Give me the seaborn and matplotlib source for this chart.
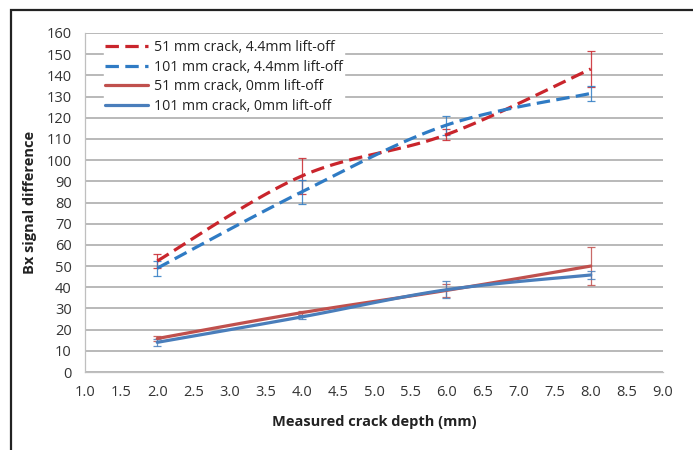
import numpy as np
import pandas as pd
import matplotlib
matplotlib.use("Agg")
import matplotlib.pyplot as plt
import seaborn as sns
from matplotlib.patches import Rectangle

# ---- data ----
depth = [2.0, 4.0, 6.0, 8.0]
series_names = ["51 mm crack, 4.4mm lift-off", "101 mm crack, 4.4mm lift-off",
                "51 mm crack, 0mm lift-off", "101 mm crack, 0mm lift-off"]
s51_44 = [52.4, 92.5, 112.0, 143.0]
s51_44_err = [3.5, 8.5, 2.5, 8.5]
s101_44 = [49.0, 85.0, 116.5, 131.5]
s101_44_err = [3.5, 5.5, 4.5, 3.5]
s51_0 = [15.8, 28.0, 38.5, 50.0]
s51_0_err = [1.2, 1.0, 3.0, 9.0]
s101_0 = [14.0, 26.0, 38.8, 45.8]
s101_0_err = [1.5, 1.0, 4.0, 2.0]
x_ticks = [1.0 + 0.5 * i for i in range(17)]
y_ticks = list(range(0, 170, 10))

colors = ["#C9252C", "#2F7BC4", "#C0504D", "#4A7EBB"]
styles = ["dash", "dash", "solid", "solid"]


def smooth(xs, ys, n=30):
    """Excel-like smoothed line (Catmull-Rom / Bezier) drawn through the data points."""
    xs = np.asarray(xs, float)
    ys = np.asarray(ys, float)
    px = np.concatenate([[xs[0]], xs, [xs[-1]]])
    py = np.concatenate([[ys[0]], ys, [ys[-1]]])
    outx, outy = [], []
    for i in range(1, len(px) - 2):
        p0, p1, p2, p3 = (np.array([px[j], py[j]]) for j in (i - 1, i, i + 1, i + 2))
        c1 = p1 + (p2 - p0) / 6.0
        c2 = p2 - (p3 - p1) / 6.0
        t = np.linspace(0, 1, n, endpoint=(i == len(px) - 3))
        b = (((1 - t) ** 3)[:, None] * p1 + (3 * (1 - t) ** 2 * t)[:, None] * c1
             + (3 * (1 - t) * t ** 2)[:, None] * c2 + (t ** 3)[:, None] * p2)
        outx.extend(b[:, 0]); outy.extend(b[:, 1])
    return outx, outy


sns.set_theme(style="white")
plt.rcParams["font.family"] = ["Open Sans", "DejaVu Sans"]

fig = plt.figure(figsize=(6.93, 4.5), dpi=100)
ax = fig.add_axes([85 / 693, 1 - 372 / 450, (663 - 85) / 693, (372 - 33) / 450])

all_vals = [s51_44, s101_44, s51_0, s101_0]
all_errs = [s51_44_err, s101_44_err, s51_0_err, s101_0_err]

frames = []
for name, vals in zip(series_names, all_vals):
    sx, sy = smooth(depth, vals)
    frames.append(pd.DataFrame({"depth": sx, "signal": sy, "series": name}))
df = pd.concat(frames, ignore_index=True)

sns.lineplot(data=df, x="depth", y="signal", hue="series", style="series",
             hue_order=series_names, style_order=series_names,
             palette=colors, dashes={n: ((4.2, 2.0) if s == "dash" else "") for n, s in zip(series_names, styles)},
             linewidth=2.3, sort=False, estimator=None, ax=ax, zorder=3)

for vals, errs, c in zip(all_vals, all_errs, colors):
    ax.errorbar(depth, vals, yerr=errs, fmt="none", ecolor=c, elinewidth=0.9,
                capsize=3, capthick=0.9, zorder=2, alpha=0.85)

ax.set_xlim(1.0, 9.0)
ax.set_ylim(0, 160)
ax.set_xticks(x_ticks)
ax.set_xticklabels([f"{v:.1f}" for v in x_ticks])
ax.set_yticks(y_ticks)
ax.yaxis.grid(True, color="#A6A6A6", linewidth=1.1)
ax.xaxis.grid(False)
for side in ["top", "right"]:
    ax.spines[side].set_visible(False)
ax.spines["left"].set_color("#BFBFBF")
ax.spines["bottom"].set_color("#BFBFBF")
ax.spines["left"].set_linewidth(0.9)
ax.spines["bottom"].set_linewidth(0.9)
ax.tick_params(axis="both", which="major", direction="out", length=3.5, width=0.8,
               color="#BFBFBF", labelsize=10.5, labelcolor="#333333", pad=6)
ax.tick_params(axis="x", pad=6)

ax.set_xlabel("Measured crack depth (mm)", fontsize=10.5, fontweight="bold",
              color="#222222", labelpad=11)
ax.set_ylabel("Bx signal difference", fontsize=10.5, fontweight="bold",
              color="#222222", labelpad=7)

leg = ax.legend(loc="upper left", bbox_to_anchor=(0.025, 0.995), frameon=True,
                fontsize=10.2, handlelength=3.0, handletextpad=0.45,
                labelspacing=0.32, borderaxespad=0.3, borderpad=0.1)
leg.get_frame().set_facecolor("white")
leg.get_frame().set_edgecolor("white")
leg.get_frame().set_alpha(1.0)
leg.set_zorder(5)
for t in leg.get_texts():
    t.set_color("#222222")

# outer frame of the figure
fig.patches.append(Rectangle((11 / 693, -0.05), 1.2, 1 - 10 / 450 + 0.05,
                             transform=fig.transFigure, fill=False,
                             edgecolor="#222222", linewidth=1.6))

fig.savefig("out.png", dpi=100)
